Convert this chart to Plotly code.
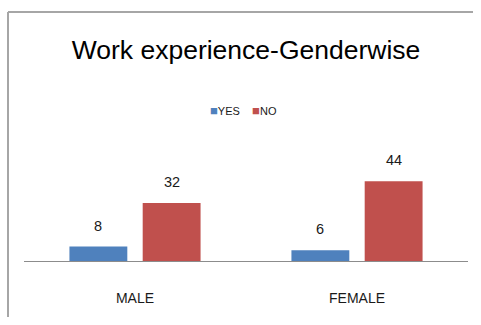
import plotly.graph_objects as go

categories = ["MALE", "FEMALE"]
series_names = ["YES", "NO"]
yes_values = [8, 6]
no_values = [32, 44]
colors = ["#4F81BD", "#C0504D"]
title_text = "Work experience-Genderwise"

W, H = 481, 325
ML, MR, MT, MB = 24, 13, 150, 64
plot_h = H - MT - MB
plot_w = W - ML - MR
px_per_unit = 1.81
ymax = plot_h / px_per_unit
bargap = 0.34
bargroupgap = 0.21

fig = go.Figure()
series = [yes_values, no_values]
for name, vals, col in zip(series_names, series, colors):
    fig.add_trace(go.Bar(x=categories, y=vals, name=name, marker_color=col,
                         marker_line_width=0, showlegend=False))

# value labels above bars, positioned from the grouped-bar geometry
slot = (1 - bargap) / len(series)
for j, vals in enumerate(series):
    for i, v in enumerate(vals):
        fig.add_annotation(x=i + (j - (len(series) - 1) / 2) * slot, y=v,
                           text=str(v), showarrow=False, yanchor="middle",
                           yshift=21, font=dict(size=14.5, color="#1a1a1a"))

# compact legend (coloured square + series name) like the original
legend_parts = [f"<span style='color:{c}; font-size:13px'>■</span>{n}"
                for n, c in zip(series_names, colors)]
fig.add_annotation(xref="paper", yref="paper", x=(243.5 - ML) / plot_w,
                   y=(H - MB - 110) / plot_h, xanchor="center", yanchor="middle",
                   text="&nbsp;&nbsp;&nbsp;&nbsp;".join(legend_parts),
                   showarrow=False, font=dict(size=11, color="#1a1a1a"))

label_font = "Liberation Sans, Arial, sans-serif"
fig.update_layout(
    width=W, height=H,
    margin=dict(l=ML, r=MR, t=MT, b=MB),
    paper_bgcolor="white", plot_bgcolor="white",
    font=dict(family=label_font, color="#1a1a1a"),
    barmode="group", bargap=bargap, bargroupgap=bargroupgap,
    title=dict(text=title_text, x=246 / W, xanchor="center",
               y=1 - 49.5 / H, yanchor="middle",
               font=dict(size=26.5, color="#000000", family=label_font)),
    showlegend=False,
    xaxis=dict(type="category", range=[-0.5, 1.5], showline=True,
               linecolor="#8c8c8c", linewidth=1, showgrid=False,
               ticks="", ticklabelstandoff=24, fixedrange=True,
               tickfont=dict(size=14, color="#1a1a1a")),
    yaxis=dict(range=[0, ymax], visible=False, fixedrange=True),
)

# outer chart border: only its top and left edges fall inside the picture
top_y = (H - MB - 12) / plot_h
left_x = (8 - ML) / plot_w
border = dict(color="#a6a6a6", width=2)
fig.add_shape(type="line", xref="paper", yref="paper",
              x0=left_x, x1=(W - 8 - ML) / plot_w, y0=top_y, y1=top_y, line=border)
fig.add_shape(type="line", xref="paper", yref="paper",
              x0=left_x, x1=left_x, y0=top_y, y1=-(MB - 8) / plot_h, line=border)

fig.write_html("out.html")
